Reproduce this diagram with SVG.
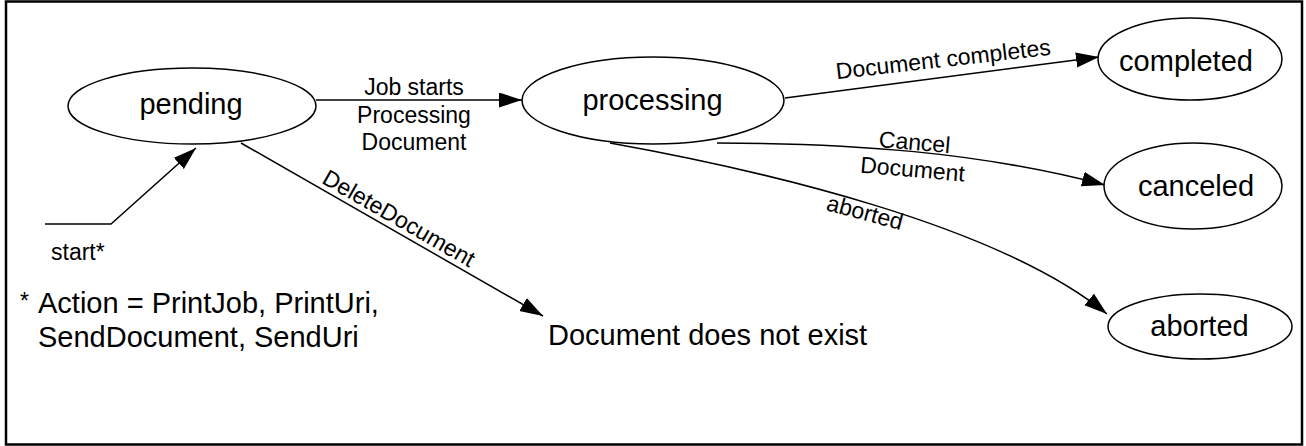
<svg xmlns="http://www.w3.org/2000/svg" width="1306" height="446" viewBox="0 0 1306 446">
  <style>
    .state { fill: #ffffff; stroke: #000000; stroke-width: 1.5; }
    .name { font-family: "Liberation Sans", Arial, sans-serif; font-size: 29px; fill: #000000; text-anchor: middle; }
    .edge { fill: none; stroke: #000000; stroke-width: 1.5; }
    .label { font-family: "Liberation Sans", Arial, sans-serif; font-size: 23px; fill: #000000; }
    .note { font-family: "Liberation Sans", Arial, sans-serif; font-size: 29px; fill: #000000; }
  </style>
  <defs>
    <marker id="arrow" markerUnits="userSpaceOnUse" markerWidth="24" markerHeight="16" refX="23" refY="7.5" orient="auto">
      <path d="M0,0 L23,7.5 L0,15 z" fill="#000000"/>
    </marker>
  </defs>

  <!-- outer frame -->
  <rect x="6" y="1.5" width="1296" height="443" fill="#ffffff" stroke="#000000" stroke-width="2.5"/>

  <!-- transitions -->
  <g id="connectors">
    <path class="edge" d="M45,224 L111,224 L196,148" marker-end="url(#arrow)"/>
    <path class="edge" d="M316,100 L522,100" marker-end="url(#arrow)"/>
    <path class="edge" d="M241,143 L543,316" marker-end="url(#arrow)"/>
    <path class="edge" d="M785,98 L1099,57" marker-end="url(#arrow)"/>
    <path class="edge" d="M717,143 C850,143 980,152 1105,185" marker-end="url(#arrow)"/>
    <path class="edge" d="M610,143 C760,170 997,224 1107,314" marker-end="url(#arrow)"/>

    <text class="label" x="51" y="260">start*</text>
    <text class="label" text-anchor="middle" x="414" y="95">Job starts</text>
    <text class="label" text-anchor="middle" x="414" y="123">Processing</text>
    <text class="label" text-anchor="middle" x="414" y="150">Document</text>
    <text class="label" text-anchor="middle" transform="translate(395,225) rotate(29.8)">DeleteDocument</text>
    <text class="label" text-anchor="middle" transform="translate(944,67) rotate(-6.5)">Document completes</text>
    <text class="label" text-anchor="middle" transform="translate(914,150) rotate(5)">Cancel</text>
    <text class="label" text-anchor="middle" transform="translate(912,177) rotate(5)">Document</text>
    <text class="label" text-anchor="middle" transform="translate(863,220) rotate(15)">aborted</text>
  </g>

  <g id="pending">
    <ellipse class="state" cx="192" cy="106" rx="124" ry="38"/>
    <text class="name" x="191" y="114">pending</text>
  </g>

  <g id="processing">
    <ellipse class="state" cx="653" cy="100.5" rx="131" ry="43.5"/>
    <text class="name" x="652.5" y="110">processing</text>
  </g>

  <g id="completed">
    <ellipse class="state" cx="1190" cy="59" rx="92" ry="41"/>
    <text class="name" x="1186" y="71">completed</text>
  </g>

  <g id="canceled">
    <ellipse class="state" cx="1193" cy="186" rx="89" ry="43"/>
    <text class="name" x="1196" y="196">canceled</text>
  </g>

  <g id="aborted">
    <ellipse class="state" cx="1200" cy="326.5" rx="92" ry="32.5"/>
    <text class="name" x="1199.5" y="336">aborted</text>
  </g>

  <g id="not-exist">
    <text class="note" x="548" y="345">Document does not exist</text>
  </g>

  <!-- footnote -->
  <g id="footnote">
    <text class="label" x="20" y="309" font-size="20">*</text>
    <text class="note" x="38" y="313">Action = PrintJob, PrintUri,</text>
    <text class="note" x="38" y="347">SendDocument, SendUri</text>
  </g>
</svg>
